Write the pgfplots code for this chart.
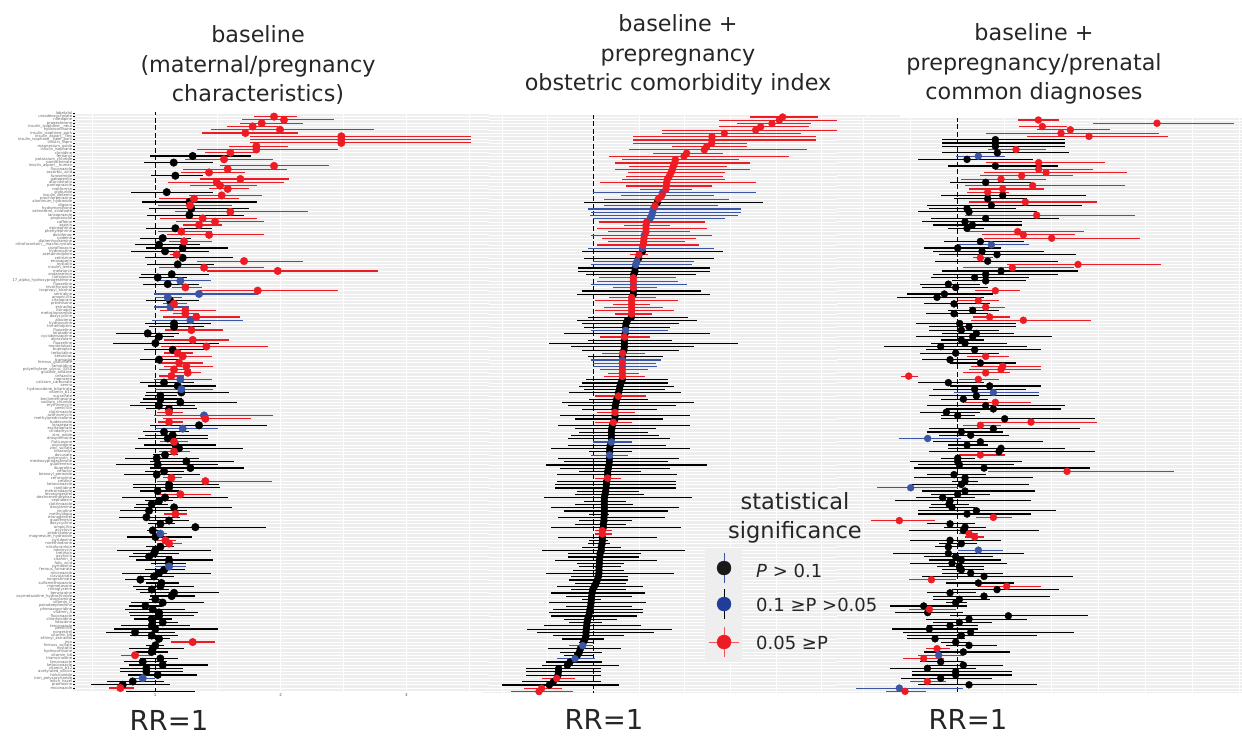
\documentclass[border=0pt]{standalone}
\usepackage{pgfplots}
\usepackage{pgfplotstable}
\usepackage{fontspec}
\setmainfont{DejaVu Sans}
\pgfplotsset{compat=1.18}
\definecolor{cK}{HTML}{000000}
\definecolor{cB}{HTML}{3B55A5}
\definecolor{cR}{HTML}{ED1C24}
\definecolor{lB}{HTML}{1F3D99}
\definecolor{bgg}{HTML}{EEEEEE}
\pgfplotstableread{
est lo hi c
822 762 890 2
852 727 1002 2
785 720 910 2
758 680 835 2
840 633 1122 2
736 607 893 2
1024 750 1412 2
1024 750 1412 2
1024 750 1412 2
769 686 863 2
769 590 1013 2
691 615 765 2
578 450 752 0
672 556 818 2
521 432 638 0
822 660 988 2
683 548 860 2
627 542 736 2
526 453 608 0
721 600 868 2
650 503 853 2
660 570 770 2
683 627 747 2
500 393 638 0
665 568 785 2
582 478 717 2
568 427 770 0
570 473 695 2
574 447 747 0
691 525 924 2
568 442 733 0
608 480 770 2
645 528 792 2
597 548 665 2
526 438 636 0
544 473 635 2
627 500 792 2
488 420 572 0
552 508 636 2
477 405 600 0
548 438 684 0
495 393 628 0
530 510 550 2
548 435 699 0
732 592 909 2
533 442 642 0
612 477 792 2
833 620 1134 2
515 423 627 0
473 417 560 0
541 465 632 1
503 428 597 0
556 515 605 2
773 600 1013 2
597 462 773 1
503 465 545 1
510 438 597 0
522 488 560 2
511 462 567 1
556 480 647 2
556 518 597 2
589 488 721 2
571 455 729 1
522 435 632 0
522 447 612 0
574 495 668 2
443 348 538 0
477 435 522 0
578 492 687 2
466 338 658 0
619 484 804 2
518 432 612 0
533 492 578 2
548 473 635 2
477 420 540 0
537 477 608 2
559 492 638 2
522 477 574 2
563 522 602 2
514 477 552 2
541 462 635 1
492 420 582 0
533 443 647 0
544 465 638 1
544 438 687 0
481 435 530 0
481 428 545 0
541 420 710 0
477 390 586 0
507 438 590 0
507 470 548 2
612 462 819 1
616 488 752 2
507 473 548 2
597 450 800 0
548 465 653 1
492 428 567 0
518 435 623 0
503 413 623 0
522 480 565 2
526 432 647 0
537 405 729 0
522 477 571 2
495 460 533 0
470 375 597 0
559 450 702 0
473 348 653 0
571 450 733 0
492 435 552 0
470 372 601 0
514 488 545 2
616 470 815 2
507 398 657 0
507 398 661 0
473 420 537 0
541 473 632 2
495 367 684 0
477 435 518 0
455 408 505 0
522 402 695 0
447 360 560 0
526 492 560 2
439 357 541 0
507 447 567 0
481 443 526 0
586 465 797 0
458 440 478 0
481 465 500 1
466 382 575 0
496 470 527 2
507 470 545 2
481 439 522 0
466 352 632 0
462 398 537 0
447 387 515 0
507 408 638 0
507 453 557 0
507 465 557 1
492 435 556 0
477 367 632 0
462 415 522 0
421 375 478 0
484 439 537 0
481 398 582 0
455 408 507 0
522 420 657 0
515 450 586 0
466 447 485 0
488 393 612 0
436 387 485 0
458 375 556 0
477 387 593 0
477 390 582 0
455 402 515 0
488 447 533 0
455 363 571 0
466 342 653 0
405 318 526 0
455 390 533 0
477 443 511 0
578 514 646 2
466 438 492 0
458 387 552 0
455 408 503 0
405 363 455 2
481 420 533 0
428 372 500 0
488 387 623 0
439 360 548 0
439 360 548 0
473 383 590 0
428 390 466 1
398 322 492 0
368 273 511 0
361 327 402 2
470 378 586 0
}\tabA
\pgfplotstableread{
est lo hi c
878 780 983 2
868 687 1040 2
846 741 962 2
812 687 956 2
797 517 1040 2
703 517 934 2
666 430 977 2
666 430 977 2
665 430 770 2
650 545 770 2
643 418 950 2
590 490 698 2
582 358 896 2
556 396 748 2
554 375 780 2
550 418 710 2
547 375 780 2
543 413 704 2
538 407 699 2
532 396 704 2
530 330 798 2
529 408 665 2
528 451 606 2
518 310 798 1
515 392 671 2
505 342 716 2
502 282 819 0
495 342 683 2
490 293 753 1
488 304 753 1
485 299 743 1
480 310 704 1
470 326 644 2
468 402 540 2
468 320 650 2
468 353 600 2
463 304 666 1
462 336 617 2
461 353 584 2
459 320 628 2
457 293 671 1
457 277 699 0
447 420 474 2
446 282 671 0
441 310 612 1
437 304 606 1
435 265 660 0
435 265 660 0
431 288 617 0
430 326 557 2
430 320 563 2
430 304 590 1
430 370 502 2
430 277 633 0
430 260 660 0
425 358 497 2
425 315 563 2
425 370 480 2
425 342 518 2
425 315 551 2
425 375 485 2
424 293 595 0
412 260 622 0
408 277 567 0
407 282 540 0
407 304 535 1
405 222 660 0
403 331 480 2
403 293 546 0
403 178 743 0
403 243 612 0
402 277 567 0
398 337 464 2
398 293 518 0
397 304 513 1
397 310 497 2
397 310 502 1
397 331 474 2
397 353 447 2
397 342 464 2
397 288 535 0
393 277 535 0
390 266 551 0
388 282 524 0
385 238 573 0
385 315 469 2
380 298 474 0
378 216 612 0
376 233 557 0
375 277 502 0
375 320 436 2
375 211 600 0
375 255 518 0
370 315 425 2
367 205 600 0
365 255 497 0
364 266 474 0
364 244 507 0
364 233 540 0
364 310 425 1
361 233 529 0
359 183 600 0
359 298 425 0
359 304 414 1
358 205 567 0
358 222 535 0
357 167 650 0
355 211 540 0
353 266 452 0
353 200 562 0
353 315 392 2
350 200 557 0
349 195 557 0
348 195 557 0
347 260 447 0
345 255 463 0
343 162 606 0
343 282 408 0
343 255 430 0
343 183 567 0
343 222 535 0
343 296 358 0
342 205 524 0
342 266 425 0
340 255 408 0
340 183 573 0
337 315 365 2
337 315 365 2
337 205 502 0
337 298 353 0
336 293 359 0
334 277 392 0
334 156 584 0
330 233 452 0
330 233 447 0
328 195 502 0
328 260 403 0
327 266 392 0
327 250 403 0
327 167 551 0
325 244 414 0
322 238 414 0
318 255 408 0
313 200 458 0
308 244 408 0
306 183 464 0
305 228 425 0
304 277 332 0
303 178 469 0
302 228 425 0
300 189 458 0
298 178 458 0
296 183 441 0
293 222 381 0
291 238 337 0
290 162 452 0
289 112 546 0
288 140 491 0
288 189 403 0
285 217 343 0
280 266 310 0
278 238 310 1
271 173 392 0
268 211 337 0
262 222 310 0
255 200 315 1
240 167 337 0
232 156 387 0
206 107 332 0
205 107 332 0
204 107 332 0
200 156 255 2
190 96 332 0
178 36 387 0
155 101 217 2
147 63 250 2
}\tabB
\pgfplotstableread{
est lo hi c
565 503 628 2
921 730 1153 2
577 508 650 2
661 560 780 2
633 407 927 2
717 531 955 2
436 277 645 0
436 277 645 0
436 277 645 0
498 413 589 2
442 277 657 0
385 318 464 1
351 204 549 0
566 407 764 2
436 294 623 0
566 436 730 2
588 402 831 2
515 391 668 2
453 333 589 2
407 300 544 0
548 345 826 2
458 357 583 2
413 351 476 2
458 272 707 0
413 312 532 0
526 357 741 2
424 232 695 0
351 238 497 0
357 204 560 0
560 345 854 2
407 243 628 0
345 215 515 0
367 249 515 0
351 294 402 0
503 351 701 2
520 396 674 2
605 402 871 2
391 283 521 0
424 323 538 1
323 221 453 0
396 249 583 0
441 266 679 0
391 368 430 2
413 255 623 0
684 470 933 2
487 339 673 2
453 277 685 0
407 249 623 0
374 243 538 0
407 305 527 0
295 210 391 0
317 216 413 0
436 374 509 2
283 170 430 0
261 141 402 0
385 323 447 2
312 221 419 0
407 357 464 2
368 294 447 0
312 227 413 0
419 368 481 2
520 362 724 2
329 198 498 0
357 238 498 0
334 238 447 0
379 277 493 0
368 198 605 0
334 272 402 0
345 243 470 0
272 102 532 0
374 227 572 0
317 210 447 0
407 351 476 2
300 215 385 0
391 300 498 0
458 362 572 2
453 357 572 2
407 340 481 2
176 153 205 2
385 328 447 2
295 204 402 0
419 300 572 0
374 249 527 0
430 312 566 1
379 238 566 0
340 272 413 0
436 345 543 2
407 232 645 0
430 289 634 0
289 210 391 0
323 272 374 0
464 272 735 0
543 385 741 2
391 340 453 2
430 238 690 0
334 232 458 0
362 266 476 0
233 147 334 1
391 249 578 0
351 294 413 0
453 294 645 0
447 238 735 0
391 328 464 2
323 272 374 0
323 181 515 0
328 204 493 0
402 192 719 0
651 413 972 2
312 232 407 0
345 192 549 0
345 306 385 0
334 187 538 0
182 80 323 1
345 215 555 0
323 243 419 0
278 198 374 0
300 136 544 0
297 243 357 0
306 238 374 0
379 204 617 0
351 204 544 0
430 379 487 2
148 63 255 2
300 232 374 0
345 283 408 0
340 176 566 0
357 328 385 2
374 345 402 2
300 181 453 0
334 266 380 0
295 255 340 0
385 323 458 1
295 130 521 0
317 221 430 0
334 238 453 0
306 181 470 0
328 260 402 0
334 277 402 0
362 277 458 0
402 215 668 0
244 176 317 2
385 289 493 0
470 385 572 2
441 306 628 0
300 232 379 0
402 249 600 0
328 249 419 0
317 289 351 0
221 120 351 0
238 176 317 2
233 136 340 0
475 300 713 0
357 227 532 0
328 249 425 0
300 232 385 0
238 125 385 0
362 159 673 0
334 170 560 0
255 170 345 0
317 272 357 0
357 289 442 0
261 227 300 2
340 221 481 0
266 204 340 1
221 159 283 2
272 210 340 0
340 238 458 0
232 120 379 0
317 187 487 0
317 187 487 0
272 153 425 0
232 181 289 2
357 204 560 0
148 18 340 1
165 108 227 2
289 170 453 0
}\tabC
% one class of one table: #1 table, #2 class, #3 colour, #4 RR=1 position, #5 units per RR, #6 row offset, #7 mark size, #8 line width
\newcommand\classplot[8]{%
\addplot[only marks,mark=*,mark size=#7pt,color=#3,mark options={draw=none,fill=#3},
  error bars/.cd,x dir=both,x explicit,error mark=none,error bar style={color=#3,line width=#8pt}]
  table[x expr={\thisrow{c}==#2 ? 1+(\thisrow{est}-#4)/#5 : nan},y expr=\coordindex+#6,
  x error plus expr=(\thisrow{hi}-\thisrow{est})/#5,x error minus expr=(\thisrow{est}-\thisrow{lo})/#5]{#1};}
\pgfplotsset{panel/.style={scale only axis,y dir=reverse,
  axis background/.style={fill=bgg},axis line style={draw=none},
  xmajorgrids,ymajorgrids,grid style={white,line width=0.85pt},
  ytick={0,...,176},xticklabels={},major tick length=0pt,clip=true,unbounded coords=discard}}
\begin{document}
\begin{tikzpicture}[x=1pt,y=1pt]
\useasboundingbox (0,0) rectangle (1242,736);
% panel 2
\begin{axis}[panel,at={(483pt,43.3pt)},width=417pt,height=577.7pt,
 xmin=-0.208,xmax=4.358,ymin=-0.61,ymax=175.35,
 xtick={0,0.5,...,4.5},yticklabels={}]
\addplot[black,line width=1pt,dash pattern=on 5pt off 2.5pt,forget plot] coordinates {(1,-1) (1,178)};
\classplot{\tabB}{0}{cK}{310}{274}{0}{3.5}{1.15}
\classplot{\tabB}{1}{cB}{310}{274}{0}{3.5}{1.15}
\classplot{\tabB}{2}{cR}{310}{274}{0}{3.5}{1.15}
\end{axis}
% panel 1
\begin{axis}[panel,at={(73pt,45pt)},width=416pt,height=578pt,
 xmin=0.347,xmax=3.658,ymin=-0.1,ymax=175.9,
 xtick={0.5,1,...,3.5},
 major tick length=2pt,
 extra x ticks={1,2,3},extra x tick labels={1,2,3},
 extra x tick style={grid=none,major tick length=0pt,xticklabel style={font=\fontsize{4}{4}\selectfont,text=black!70,yshift=1pt}},
 xtick style={draw=none},
 ytick pos=left,
 ytick style={black,line width=0.7pt},
 yticklabel style={font=\fontsize{3.8}{3.9}\selectfont,text=black!60,inner sep=0.6pt},
 yticklabels={labetalol,ursodeoxycholate,nifedipine,progesterone,insulin\_isophane\_\_neut,hydrocortisone,insulin\_isophane\_pork,insulin\_aspart\_\_flex,insulin\_isophane\_\_beef\_pork,insulin\_lispro,magnesium\_oxide,insulin\_isophane,clonidine,fentanyl,potassium\_chloride,pantothenate,insulin\_aspart\_\_human,fluconazole,ascorbic\_acid,furosemide,gabapentin,atorvastatin,pantoprazole,metformin,glyburide,insulin\_detemir,prochlorperazine,aluminum\_hydroxide,digoxin,hydromorphone,salmeterol\_xinafoate,lansoprazole,propranolol,caffeine,aspirin,epinephrine,phenylephrine,diclofenac,codeine,diphenhydramine,nitrofurantoin\_\_macrocrystals,ciprofloxacin,hydroxyzine,acetaminophen,cetirizine,enoxaparin,nystatin,insulin\_lente,melatonin,ondansetron,tiotropium,17\_alpha\_hydroxyprogesterone,fluoxetine,levothyroxine,isopropyl\_alcohol,sertraline,amoxicillin,citalopram,prednisone,estradiol,lisinopril,metoclopramide,doxycycline,albuterol,hydroxyzine,trimethoprim,fluoxetine,loratadine,cyclobenzaprine,alprazolam,fluoxetine,montelukast,bupropion,terbutaline,ketorolac,tramadol,ferrous\_gluconate,famotidine,polyethylene\_glycol\_3350,glucose\_oxidase,cefazolin,naproxen,calcium\_carbonate,senna,hydrocodone\_bitartrate,vitamin\_b12,sucralfate,beclomethasone,sodium\_chloride,erythromycin,penicillin,clotrimazole,azithromycin,methylprednisolone,budesonide,lorazepam,escitalopram,clindamycin,zinc\_oxide,drospirenone,fluticasone,oxycodone,zinc\_sulfate,bisacodyl,docusate,polymyxin\_b,medroxyprogesterone,guaifenesin,ibuprofen,cefaclor,benzoyl\_peroxide,cefuroxime,cefdinir,ketoconazole,ranitidine,metronidazole,levonorgestrel,dextromethorphan,cephalexin,clotrimazole,doxylamine,nicotine,methyldopa,etonogestrel,guaifenesin,doxycycline,ampicillin,acyclovir,prednisolone,magnesium\_hydroxide,pyridoxine,norethindrone,nitrofurantoin,neomycin,tretinoin,oxytocin,vitamin\_d,folic\_acid,pyridoxine,ferrous\_fumarate,miconazole,clavulanate,norgestimate,sulfamethoxazole,mometasone,nitroglycerin,benzocaine,oxymetazoline\_hydrochloride,doxylamine,vitamin\_D,pseudoephedrine,phenazopyridine,vitamin\_A,fluconazole,chlorhexidine,lidocaine,terconazole,penicillin,norgestrel,vitamin\_b6,ethinyl\_estradiol,iron,ferrous\_sulfate,nystatin,hydrocortisone,vitamin\_b6,triamcinolone,terconazole,ketoconazole,vitamin\_b12,acetylated\_silicon,halcinonide,iron\_polysaccharide,witch\_hazel,pramoxine,miconazole,lidocaine}]
\addplot[black,line width=1pt,dash pattern=on 5pt off 2.5pt,forget plot] coordinates {(1,-1) (1,178)};
\classplot{\tabA}{0}{cK}{465}{377}{1}{3.8}{1.2}
\classplot{\tabA}{1}{cB}{465}{377}{1}{3.8}{1.2}
\classplot{\tabA}{2}{cR}{465}{377}{1}{3.8}{1.2}
\end{axis}
% panel 3
\begin{axis}[panel,at={(837pt,43pt)},width=405pt,height=575pt,
 xmin=-0.284,xmax=4.025,ymin=-0.6,ymax=174.5,
 xtick={0,0.5,...,4},yticklabels={}]
\addplot[black,line width=1pt,dash pattern=on 5pt off 2.5pt,forget plot] coordinates {(1,-1) (1,178)};
\classplot{\tabC}{0}{cK}{323}{282}{0}{3.5}{1.15}
\classplot{\tabC}{1}{cB}{323}{282}{0}{3.5}{1.15}
\classplot{\tabC}{2}{cR}{323}{282}{0}{3.5}{1.15}
\end{axis}
% overlay in image pixels: titles and legend
\begin{axis}[scale only axis,at={(0pt,0pt)},width=1242pt,height=736pt,hide axis,
 xmin=0,xmax=1242,ymin=0,ymax=736,y dir=reverse,clip=false]
\fill[bgg] (axis cs:705,548) rectangle (axis cs:742,662);
\addplot[only marks,mark=*,mark size=7pt,color=black!90,mark options={draw=none,fill=black!90},
 error bars/.cd,y dir=both,y explicit,error mark=none,error bar style={color=cB,line width=0.9pt}]
 coordinates {(724,568) +- (0,15)};
\addplot[only marks,mark=*,mark size=7pt,color=lB,mark options={draw=none,fill=lB},
 error bars/.cd,y dir=both,y explicit,error mark=none,error bar style={color=black,line width=0.9pt}]
 coordinates {(724,604) +- (0,15)};
\addplot[only marks,mark=*,mark size=7pt,color=cR,mark options={draw=none,fill=cR},
 error bars/.cd,x dir=both,y dir=both,x explicit,y explicit,error mark=none,error bar style={color=cR!75,line width=0.9pt}]
 coordinates {(724,642) +- (15,15)};
\tikzset{tt/.style={font=\fontsize{22.3}{29.7}\selectfont,align=center,text=black!85,inner sep=0pt}}
\node[tt] at (axis cs:258,65) {baseline\\(maternal/pregnancy\\characteristics)};
\node[tt] at (axis cs:678,55) {baseline +\\prepregnancy\\obstetric comorbidity index};
\node[tt] at (axis cs:1034,64) {baseline +\\prepregnancy/prenatal\\common diagnoses};
\node[font=\fontsize{22.5}{29}\selectfont,align=center,text=black!85,inner sep=0pt] at (axis cs:795,518) {statistical\\significance};
\tikzset{lg/.style={font=\fontsize{18}{20}\selectfont,anchor=west,text=black!85,inner sep=0pt}}
\node[lg] at (axis cs:756,571) {\textit{P} > 0.1};
\node[lg] at (axis cs:756,605) {0.1 ≥P >0.05};
\node[lg] at (axis cs:756,643) {0.05 ≥P};
\tikzset{rr/.style={font=\fontsize{27.5}{30}\selectfont,text=black!85,inner sep=0pt}}
\node[rr] at (axis cs:169,720) {RR=1};
\node[rr] at (axis cs:604,719) {RR=1};
\node[rr] at (axis cs:968,719) {RR=1};
\end{axis}
\end{tikzpicture}
\end{document}
